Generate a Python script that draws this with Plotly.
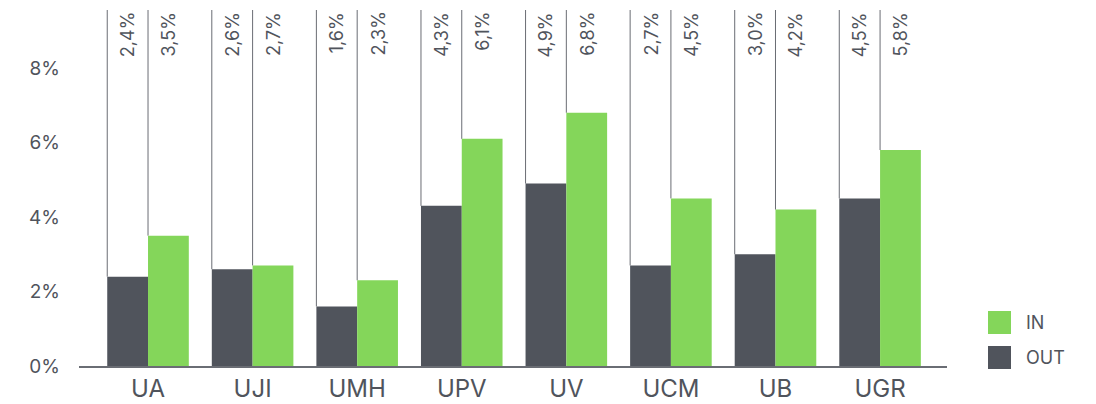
import plotly.graph_objects as go

# University share data (percent)
universities = ["UA", "UJI", "UMH", "UPV", "UV", "UCM", "UB", "UGR"]
out_values = [2.4, 2.6, 1.6, 4.3, 4.9, 2.7, 3.0, 4.5]
in_values = [3.5, 2.7, 2.3, 6.1, 6.8, 4.5, 4.2, 5.8]
y_ticks = [0, 2, 4, 6, 8]
y_tick_labels = [f"{v}%" for v in y_ticks]

OUT_COLOR = "#50545c"
IN_COLOR = "#84d65a"
TEXT_COLOR = "#50545c"
LINE_COLOR = "#6a6d74"
FONT = "Inter, Roboto, sans-serif"

Y_TOP = 9.56
BARGAP = 0.22
BAR_W = (1 - BARGAP) / 2


def pct_label(v):
    return f"{v:.1f}".replace(".", ",") + "%"


fig = go.Figure()
fig.add_trace(go.Bar(name="OUT", x=list(range(len(universities))), y=out_values,
                     marker=dict(color=OUT_COLOR, line=dict(width=0)), showlegend=False))
fig.add_trace(go.Bar(name="IN", x=list(range(len(universities))), y=in_values,
                     marker=dict(color=IN_COLOR, line=dict(width=0)), showlegend=False))

# Leader lines from each bar top to the top of the plot, with rotated value labels
for i in range(len(universities)):
    for val, left, center in ((out_values[i], i - BAR_W, i - BAR_W / 2),
                              (in_values[i], i, i + BAR_W / 2)):
        fig.add_shape(type="line", xref="x", yref="y", x0=left, x1=left,
                      y0=val, y1=Y_TOP, line=dict(color=LINE_COLOR, width=1), layer="below")
        fig.add_annotation(x=center, y=Y_TOP, xref="x", yref="y", text=pct_label(val),
                           textangle=-90, showarrow=False, xanchor="center", yanchor="top",
                           font=dict(family=FONT, size=18, color=TEXT_COLOR))

# Legend drawn as swatches + labels
legend_items = [("IN", IN_COLOR, 322.5), ("OUT", OUT_COLOR, 357.5)]
W, H = 1096, 404
for name, color, cy in legend_items:
    fig.add_shape(type="rect", xref="paper", yref="paper",
                  x0=(988 - 79) / 868, x1=(1011 - 79) / 868,
                  y0=(366 - (cy + 11.5)) / 356, y1=(366 - (cy - 11.5)) / 356,
                  fillcolor=color, line=dict(width=0))
    fig.add_annotation(xref="paper", yref="paper", x=(1024 - 79) / 868,
                       y=(366 - cy) / 356, text=name, showarrow=False,
                       xanchor="left", yanchor="middle",
                       font=dict(family=FONT, size=18, color=TEXT_COLOR))

fig.update_layout(
    width=W, height=H,
    margin=dict(l=79, r=149, t=10, b=38, autoexpand=False),
    barmode="group", bargap=BARGAP, bargroupgap=0,
    plot_bgcolor="white", paper_bgcolor="white",
    font=dict(family=FONT, color=TEXT_COLOR),
    xaxis=dict(range=[-0.66, 7.64], tickvals=list(range(len(universities))),
               ticktext=universities, showgrid=False, zeroline=False,
               showline=True, linecolor=LINE_COLOR, linewidth=1.5, automargin=False,
               tickfont=dict(family=FONT, size=24, color=TEXT_COLOR), ticks=""),
    yaxis=dict(range=[0, Y_TOP], tickvals=y_ticks, ticktext=y_tick_labels, showgrid=False,
               zeroline=False, showline=False, ticklabelstandoff=18, automargin=False,
               tickfont=dict(family=FONT, size=19, color=TEXT_COLOR)),
)

fig.write_html("out.html")
